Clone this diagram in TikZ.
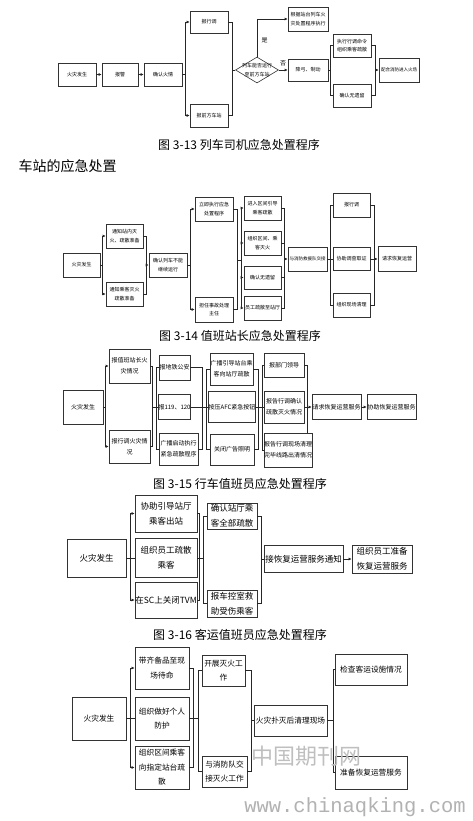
\documentclass[tikz,border=0pt]{standalone}
\usepackage{fontspec}
\newfontfamily\cjk{Noto Sans CJK SC}
\newfontfamily\wmono{Liberation Mono}
\usetikzlibrary{arrows.meta,shapes.geometric}

\tikzset{
  box/.style={draw=black!80, line width=0.6pt, align=center, inner sep=0pt, fill=white},
  sz/.style 2 args={minimum width=#1, minimum height=#2},
  fsA/.style={font=\cjk\fontsize{5}{8.5}\selectfont},
  fsAs/.style={font=\cjk\fontsize{4.5}{8.5}\selectfont},
  fsB/.style={font=\cjk\fontsize{6}{11}\selectfont},
  fsC/.style={font=\cjk\fontsize{8.5}{15}\selectfont},
  fsD/.style={font=\cjk\fontsize{7.7}{14.5}\selectfont},
  heavy/.style={line width=0.9pt},
  link/.style={draw=black!85, line width=0.6pt},
  arr/.style={link, -{Latex[length=3pt,width=3pt]}},
  caption/.style={font=\cjk\fontsize{12}{14}\selectfont},
}

\begin{document}
\begin{tikzpicture}[x=1pt,y=-1pt]
  \useasboundingbox (0,0) rectangle (473,821);
  \fill[white] (0,0) rectangle (473,821);

  % ---------- 3-13 driver ----------
  \node[box,fsA,sz={38}{23}] (c1fire)  at (77,74.5)  {火灾发生};
  \node[box,fsA,sz={36}{23}] (c1alarm) at (120,74.5) {报警};
  \node[box,fsA,sz={38}{23}] (c1conf)  at (163,74.5) {确认火情};
  \node[box,fsA,sz={38}{22}] (c1disp)  at (209,22)   {报行调};
  \node[box,fsA,sz={38}{23}] (c1front) at (209,115.5) {报前方车站};
  \node[diamond,draw=black!80,line width=0.6pt,sz={43}{26},inner sep=0pt] (c1dia) at (257,70) {};
  \node[fsA,align=center] (c1diatext) at (c1dia) {列车能否运行\\至前方车站};
  \node[box,fsA,sz={40}{24}] (c1plan)  at (308,19)   {根据站台列车火\\灾处置程序执行};
  \node[box,fsA,sz={40}{22}] (c1stop)  at (308,70)   {降弓、制动};
  \node[box,fsA,sz={38}{23}] (c1evac)  at (352,45.5) {执行行调命令\\组织乘客疏散};
  \node[box,fsA,sz={38}{23}] (c1check) at (352,95.5) {确认无遗留};
  \node[box,fsAs,sz={40}{24}] (c1help) at (399,70)   {配合消防进入火场};
  % links
  \draw[arr] (c1fire) -- (c1alarm);
  \draw[arr] (c1alarm) -- (c1conf);
  \coordinate (c1b1) at (185.5,74.5);
  \draw[link] (c1conf) -- (c1b1);
  \draw[arr] (c1b1) |- (c1disp);
  \draw[arr] (c1b1) |- (c1front);
  \coordinate (c1m1) at (232,70);
  \draw[link] (c1disp) -| (c1m1);
  \draw[link] (c1front) -| (c1m1);
  \draw[link] (c1m1) -- (c1dia);
  \draw[arr] (c1dia) |- (c1plan);
  \node[fsB,anchor=west] (c1yes) at (258,40) {是};
  \draw[arr] (c1dia) -- (c1stop);
  \node[fsB] (c1no) at (283,63) {否};
  \coordinate (c1b2) at (330.5,70);
  \draw[link] (c1stop) -- (c1b2);
  \draw[link] (c1b2) |- (c1evac);
  \draw[link] (c1b2) |- (c1check);
  \coordinate (c1m2) at (375,70);
  \draw[link] (c1evac) -| (c1m2);
  \draw[link] (c1check) -| (c1m2);
  \draw[arr] (c1m2) -- (c1help);

  \node[caption] (cap1) at (239,145) {图 3-13\ 列车司机应急处置程序};
  \node[font=\cjk\fontsize{14}{16}\selectfont,anchor=west] (head) at (15,166) {车站的应急处置};

  % ---------- 3-14 station master ----------
  \node[box,fsA,sz={37}{24}] (c2fire)  at (81.5,265)  {火灾发生};
  \node[box,fsA,sz={37}{24}] (c2near)  at (124.5,236) {通知站内灭\\火、疏散准备};
  \node[box,fsA,sz={37}{24}] (c2pass)  at (124.5,294) {通知乘客灭火\\疏散准备};
  \node[box,fsA,sz={38}{24}] (c2conf)  at (168,265)   {确认列车不能\\继续运行};
  \node[box,fsA,sz={38}{24}] (c2exec)  at (214,209)   {立即执行应急\\处置程序};
  \node[box,fsA,sz={38}{25}] (c2chief) at (214,309.5) {担任事故处理\\主任};
  \node[box,fsA,sz={37}{24}] (c2guide) at (262.5,208) {进入区间引导\\乘客疏散};
  \node[box,fsA,sz={37}{24}] (c2org)   at (262.5,243) {组织区间、乘\\客灭火};
  \node[box,fsA,sz={37}{23}] (c2check) at (262.5,277.5) {确认无遗留};
  \node[box,fsA,sz={37}{24}] (c2staff) at (262.5,308) {员工疏散至站厅};
  \node[box,fsAs,sz={39}{24}] (c2hand) at (307.5,259) {与消防救援队交接};
  \node[box,fsA,sz={37}{24}] (c2rep)   at (351.5,205) {报行调};
  \node[box,fsA,sz={37}{23}] (c2inv)   at (351.5,259) {协助调查取证};
  \node[box,fsA,sz={37}{24}] (c2clean) at (351.5,305) {组织现场清理};
  \node[box,fsA,sz={38}{25}] (c2req)   at (397,259)   {请求恢复运营};
  % links
  \coordinate (c2b1) at (102.5,265);
  \draw[link] (c2fire) -- (c2b1);
  \draw[arr] (c2b1) |- (c2near);
  \draw[arr] (c2b1) |- (c2pass);
  \coordinate (c2m1) at (146,265);
  \draw[link] (c2near) -| (c2m1);
  \draw[link] (c2pass) -| (c2m1);
  \draw[arr] (c2m1) -- (c2conf);
  \coordinate (c2b2) at (190.5,265);
  \draw[link] (c2conf) -- (c2b2);
  \draw[arr] (c2b2) |- (c2exec);
  \draw[arr] (c2b2) |- (c2chief);
  \coordinate (c2m2) at (237,260);
  \coordinate (c2b3) at (241,260);
  \draw[link] (c2exec) -| (c2m2);
  \draw[link] (c2chief) -| (c2m2);
  \draw[link] (c2m2) -- (c2b3);
  \foreach \t in {c2guide,c2org,c2check,c2staff}
    \draw[arr] (c2b3) |- (\t);
  \coordinate (c2m3) at (284.5,259);
  \foreach \t in {c2guide,c2org,c2check,c2staff}
    \draw[link] (\t) -| (c2m3);
  \draw[arr] (c2m3) -- (c2hand);
  \coordinate (c2b4) at (330,259);
  \draw[link] (c2hand) -- (c2b4);
  \coordinate (c2m4) at (374,259);
  \foreach \t in {c2rep,c2inv,c2clean}{
    \draw[link] (c2b4) |- (\t);
    \draw[link] (\t) -| (c2m4);
  }
  \draw[arr] (c2m4) -- (c2req);

  \node[caption] (cap2) at (240,336) {图 3-14\ 值班站长应急处置程序};

  % ---------- 3-15 train dispatcher on duty ----------
  \node[box,fsB,sz={40}{34}] (c3fire)   at (83,407)     {火灾发生};
  \node[box,fsB,sz={41}{34}] (c3chief)  at (129.5,366)  {报值班站长火\\灾情况};
  \node[box,fsB,sz={41}{33}] (c3disp)   at (129.5,446.5) {报行调火灾情\\况};
  \node[box,fsB,sz={31}{25}] (c3police) at (174.5,367.5) {报地铁公安};
  \node[box,fsB,sz={31}{25}] (c3call)   at (174.5,407)  {报119、120};
  \node[box,fsB,sz={39}{32}] (c3broad)  at (178.5,449)  {广播启动执行\\紧急疏散程序};
  \node[box,fsB,sz={43}{32}] (c3guide)  at (231.5,369)  {广播引导站台乘\\客向站厅疏散};
  \node[box,fsB,sz={44}{31}] (c3afc)    at (232,407)    {按压AFC紧急按钮};
  \node[box,fsB,sz={44}{31}] (c3light)  at (232,449.5)  {关闭广告照明};
  \node[box,fsB,sz={40}{24}] (c3lead)   at (284,365)    {报部门领导};
  \node[box,fsB,sz={40}{32}] (c3conf)   at (284,407)    {报告行调确认\\疏散灭火情况};
  \node[box,fsB,sz={48}{34}] (c3clear)  at (288,450)    {报告行调现场清理\\完毕线路出清情况};
  \node[box,fsB,sz={49}{25}] (c3req)    at (336.5,407)  {请求恢复运营服务};
  \node[box,fsB,sz={49}{25}] (c3assist) at (391.5,407)  {协助恢复运营服务};
  % links
  \coordinate (c3b1) at (105.5,407);
  \draw[link] (c3fire) -- (c3b1);
  \draw[arr] (c3b1) |- (c3chief);
  \draw[arr] (c3b1) |- (c3disp);
  \coordinate (c3m1) at (152.5,407);
  \coordinate (c3b2) at (156,407);
  \draw[link] (c3chief) -| (c3m1);
  \draw[link] (c3disp) -| (c3m1);
  \draw[link] (c3m1) -- (c3b2);
  \coordinate (c3m2) at (202,407);
  \coordinate (c3b3) at (206,407);
  \foreach \t in {c3police,c3call,c3broad}{
    \draw[link] (c3b2) |- (\t);
    \draw[link] (\t) -| (c3m2);
  }
  \draw[link] (c3m2) -- (c3b3);
  \coordinate (c3m3) at (258,407);
  \coordinate (c3b4) at (262,407);
  \foreach \t in {c3guide,c3afc,c3light}{
    \draw[link] (c3b3) |- (\t);
    \draw[link] (\t) -| (c3m3);
  }
  \draw[link] (c3m3) -- (c3b4);
  \foreach \t in {c3lead,c3conf,c3clear}
    \draw[link] (c3b4) |- (\t);
  \coordinate (c3m4) at (307,407);
  \coordinate (c3m4b) at (307,433);
  \draw[link] (c3lead) -| (c3m4);
  \draw[link] (c3conf) -- (c3m4);
  \draw[link] (c3m4) -- (c3m4b);
  \draw[arr] (c3m4) -- (c3req);
  \draw[arr] (c3req) -- (c3assist);

  \node[caption] (cap3) at (240,484) {图 3-15\ 行车值班员应急处置程序};

  % ---------- 3-16 passenger service on duty ----------
  \node[box,heavy,fsC,sz={59}{38}] (c4fire)   at (96.5,558)  {火灾发生};
  \node[box,heavy,fsC,sz={62}{37}] (c4guide)  at (166,513.5) {协助引导站厅\\乘客出站};
  \node[box,heavy,fsC,sz={62}{39}] (c4staff)  at (166,558)   {组织员工疏散\\乘客};
  \node[box,heavy,fsC,sz={62}{36}] (c4tvm)    at (166,600)   {在SC上关闭TVM};
  \node[box,heavy,fsC,sz={50}{26}] (c4conf)   at (232,516)   {确认站厅乘\\客全部疏散};
  \node[box,heavy,fsC,sz={50}{27}] (c4rep)    at (232,603.5) {报车控室救\\助受伤乘客};
  \node[box,heavy,fsC,sz={79}{27}] (c4notice) at (303.5,559) {接恢复运营服务通知};
  \node[box,heavy,fsC,sz={60}{28}] (c4prep)   at (382,559)   {组织员工准备\\恢复运营服务};
  % links
  \coordinate (c4b1) at (130,558);
  \draw[link,heavy] (c4fire) -- (c4staff);
  \draw[arr,heavy] (c4b1) |- (c4guide);
  \draw[arr,heavy] (c4b1) |- (c4tvm);
  \coordinate (c4m1) at (199.5,558);
  \coordinate (c4b2) at (203,558);
  \foreach \t in {c4guide,c4staff,c4tvm}
    \draw[link,heavy] (\t) -| (c4m1);
  \draw[link,heavy] (c4m1) -- (c4b2);
  \coordinate (c4m2) at (261,559);
  \foreach \t in {c4conf,c4rep}{
    \draw[link,heavy] (c4b2) |- (\t);
    \draw[link,heavy] (\t) -| (c4m2);
  }
  \draw[link,heavy] (c4m2) -- (c4notice);
  \draw[arr,heavy] (c4notice) -- (c4prep);

  \node[caption] (cap4) at (240,635) {图 3-16\ 客运值班员应急处置程序};

  % ---------- station crew ----------
  \node[box,heavy,fsD,sz={54}{43}] (c5fire)  at (99,718.5)   {火灾发生};
  \node[box,heavy,fsD,sz={54}{42}] (c5gear)  at (162,668)    {带齐备品至现\\场待命};
  \node[box,heavy,fsD,sz={54}{43}] (c5prot)  at (162,718.5)  {组织做好个人\\防护};
  \node[box,heavy,fsD,sz={54}{43}] (c5sect)  at (162,767.5)  {组织区间乘客\\向指定站台疏\\散};
  \node[box,heavy,fsD,sz={43}{31}] (c5fight) at (223.5,670.5) {开展灭火工\\作};
  \node[box,heavy,fsD,sz={45}{31}] (c5hand)  at (224.5,771.5) {与消防队交\\接灭火工作};
  \node[box,heavy,fsD,sz={73}{31}] (c5clean) at (290.5,720.5) {火灾扑灭后清理现场};
  \node[box,heavy,fsD,sz={72}{31}] (c5insp)  at (371,669.5)   {检查客运设施情况};
  \node[box,heavy,fsD,sz={72}{33}] (c5ready) at (371,772.5)   {准备恢复运营服务};
  % links
  \coordinate (c5b1) at (130,718.5);
  \draw[link,heavy] (c5fire) -- (c5prot);
  \draw[arr,heavy] (c5b1) |- (c5gear);
  \draw[arr,heavy] (c5b1) |- (c5sect);
  \coordinate (c5m1) at (193,718.5);
  \coordinate (c5b2) at (198,718.5);
  \foreach \t in {c5gear,c5prot,c5sect}
    \draw[link,heavy] (\t) -| (c5m1);
  \draw[link,heavy] (c5m1) -- (c5b2);
  \coordinate (c5m2) at (251,720.5);
  \foreach \t in {c5fight,c5hand}{
    \draw[link,heavy] (c5b2) |- (\t);
    \draw[link,heavy] (\t) -| (c5m2);
  }
  \draw[link,heavy] (c5m2) -- (c5clean);
  \coordinate (c5b3) at (333,720.5);
  \draw[link,heavy] (c5clean) -- (c5b3);
  \draw[link,heavy] (c5b3) |- (c5insp);
  \draw[link,heavy] (c5b3) |- (c5ready);

  % watermark
  \node[text=gray!50,font=\cjk\fontsize{22}{22}\selectfont] (wm1) at (306,756) {中国期刊网};
  \node[text=gray!60,font=\wmono\fontsize{20.5}{20}\selectfont] (wm2) at (355,807) {www.chinaqking.com};
\end{tikzpicture}
\end{document}
